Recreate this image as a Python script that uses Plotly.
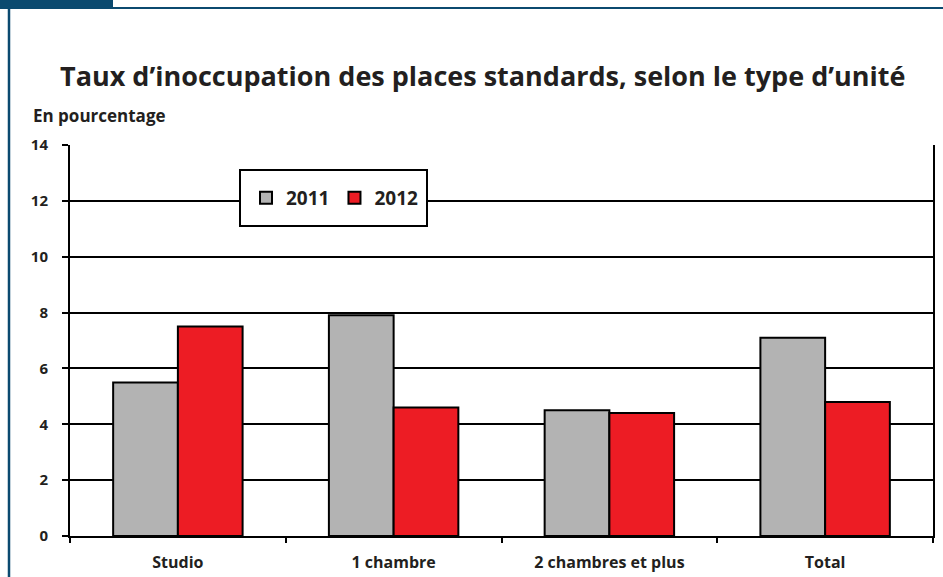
import plotly.graph_objects as go

categories = ["Studio", "1 chambre", "2 chambres et plus", "Total"]
values_2011 = [5.5, 7.9, 4.5, 7.1]
values_2012 = [7.5, 4.6, 4.4, 4.8]
y_ticks = [0, 2, 4, 6, 8, 10, 12, 14]

W, H = 943, 577
L, R, T, B = 70, 10, 145, 41
pw, ph = W - L - R, H - T - B

def px_x(x):
    return (x - L) / pw

def px_y(y):
    return (H - B - y) / ph

FONT = "Open Sans"
DARK = "#231f20"
BLUE = "#0b4a6f"

fig = go.Figure()
fig.add_bar(name="<b>2011</b>", x=categories, y=values_2011,
            marker=dict(color="#b3b3b3", line=dict(color="black", width=2)))
fig.add_bar(name="<b>2012</b>", x=categories, y=values_2012,
            marker=dict(color="#ed1c24", line=dict(color="black", width=2)))

shapes = [
    dict(type="rect", xref="paper", yref="paper", x0=px_x(0), x1=px_x(113), y0=px_y(0), y1=px_y(9),
         fillcolor=BLUE, line=dict(width=0), layer="above"),
    dict(type="line", xref="paper", yref="paper", x0=px_x(0), x1=px_x(943), y0=px_y(8), y1=px_y(8),
         line=dict(color=BLUE, width=2), layer="above"),
    dict(type="line", xref="paper", yref="paper", x0=px_x(9), x1=px_x(9), y0=px_y(8), y1=px_y(577),
         line=dict(color=BLUE, width=2.5), layer="above"),
    dict(type="rect", xref="paper", yref="paper", x0=px_x(240), x1=px_x(427), y0=px_y(170), y1=px_y(226),
         fillcolor="white", line=dict(color="black", width=2), layer="above"),
]

fig.update_layout(
    width=W, height=H,
    margin=dict(l=L, r=R, t=T, b=B),
    paper_bgcolor="white", plot_bgcolor="white",
    barmode="group", bargap=0.4, bargroupgap=0,
    font=dict(family=FONT, color=DARK),
    shapes=shapes,
    showlegend=True,
    legend=dict(orientation="h", x=px_x(246), y=px_y(198), yanchor="middle", xanchor="left",
                bgcolor="rgba(0,0,0,0)", borderwidth=0,
                font=dict(family=FONT, size=19, color=DARK), itemwidth=30, traceorder="normal"),
    annotations=[
        dict(text="<b>Taux d’inoccupation des places standards, selon le type d’unité</b>",
             xref="paper", yref="paper", x=px_x(483), y=px_y(75), xanchor="center", yanchor="middle",
             showarrow=False, font=dict(family=FONT, size=27, color=DARK)),
        dict(text="<b>En pourcentage</b>", xref="paper", yref="paper", x=px_x(31), y=px_y(115),
             xanchor="left", yanchor="middle", showarrow=False, font=dict(family=FONT, size=17, color=DARK)),
    ],
)

fig.update_xaxes(
    showline=True, linecolor="black", linewidth=2, mirror=False, automargin=False,
    ticks="outside", tickson="boundaries", ticklen=5, tickwidth=2, tickcolor="black",
    tickfont=dict(family=FONT, size=16, color=DARK), showgrid=False,
    tickprefix="<b>", ticksuffix="</b>", ticklabelstandoff=11,
)
fig.update_yaxes(
    range=[0, 14], tickvals=y_ticks, ticktext=["<b>%d</b>" % v for v in y_ticks],
    showline=True, linecolor="black", linewidth=2, mirror=True, automargin=False,
    ticks="outside", ticklen=6, tickwidth=2, tickcolor="black",
    showgrid=True, gridcolor="black", gridwidth=2, zeroline=False,
    tickfont=dict(family=FONT, size=15, color=DARK), ticklabelstandoff=11,
)

fig.write_html("out.html", config={"displayModeBar": False},
               post_script="document.body.style.margin='0';document.body.style.overflow='hidden';")
